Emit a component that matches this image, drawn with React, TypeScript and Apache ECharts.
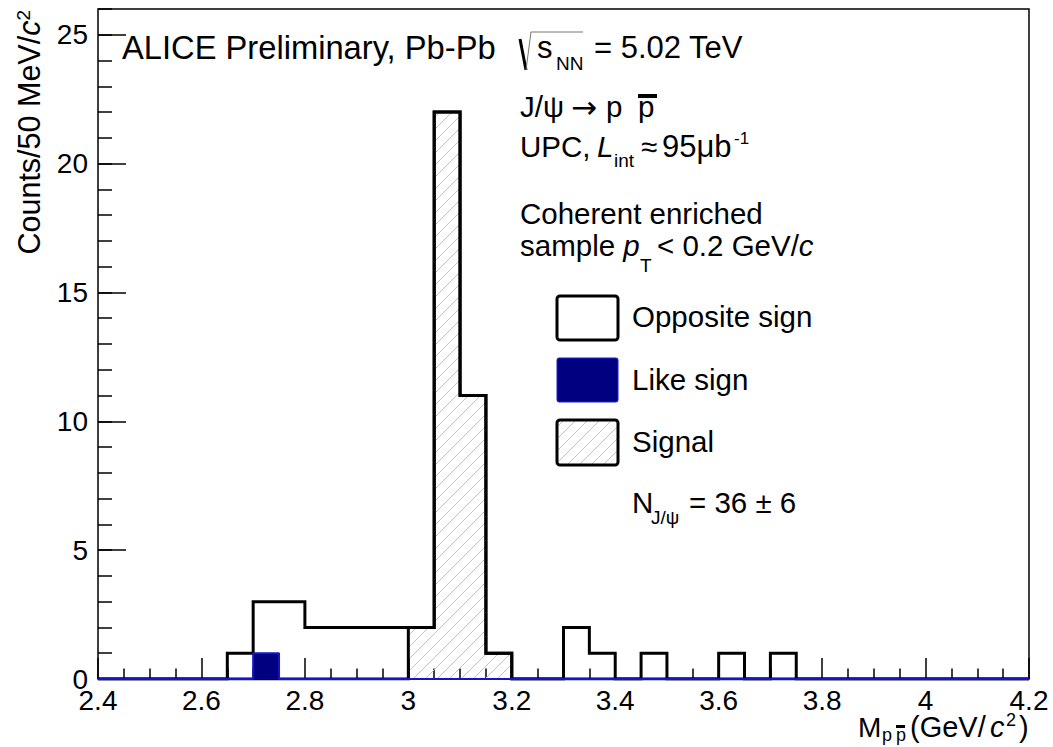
import React, { useEffect, useRef } from 'react';
import * as echarts from 'echarts';

// Histogram binning (GeV/c^2)
const binStart = 2.4;
const binWidth = 0.05;
// Counts per 50 MeV/c^2 bin, 36 bins from 2.40 to 4.20
const oppositeSign = [0, 0, 0, 0, 0, 1, 3, 3, 2, 2, 2, 2, 2, 22, 11, 1, 0, 0, 2, 1, 0, 1, 0, 0, 1, 0, 1, 0, 0, 0, 0, 0, 0, 0, 0, 0];
const likeSign = [0, 0, 0, 0, 0, 0, 1, 0, 0, 0, 0, 0, 0, 0, 0, 0, 0, 0, 0, 0, 0, 0, 0, 0, 0, 0, 0, 0, 0, 0, 0, 0, 0, 0, 0, 0];
const signal = [0, 0, 0, 0, 0, 0, 0, 0, 0, 0, 0, 0, 2, 22, 11, 1, 0, 0, 0, 0, 0, 0, 0, 0, 0, 0, 0, 0, 0, 0, 0, 0, 0, 0, 0, 0];

const xMin = 2.4;
const xMax = 4.2;
const xStep = 0.2;
const yMin = 0;
const yMax = 26;
const yStep = 5;

const FONT = "'Liberation Sans', Arial, Helvetica, sans-serif";
const HATCH = '#a6d6a6';

const r3 = (v: number) => Math.round(v * 1000) / 1000;
const edge = (i: number) => r3(binStart + i * binWidth);

function stepPoints(vals: number[]) {
  const pts: number[][] = [[edge(0), 0]];
  vals.forEach((v, i) => {
    pts.push([edge(i), v]);
    pts.push([edge(i + 1), v]);
  });
  pts.push([edge(vals.length), 0]);
  return pts;
}

function hatchLines(x0: number, yt: number, x1: number, yb: number, sp = 12) {
  const out: any[] = [];
  const kStart = Math.ceil((x0 + yt) / sp) * sp;
  for (let k = kStart; k <= x1 + yb; k += sp) {
    const xa = Math.max(x0, k - yb);
    const xb = Math.min(x1, k - yt);
    if (xb - xa > 0.5) {
      out.push({
        type: 'line',
        shape: { x1: xa, y1: k - xa, x2: xb, y2: k - xb },
        style: { stroke: HATCH, lineWidth: 1 },
        silent: true,
      });
    }
  }
  return out;
}

function txt(text: string, x: number, y: number, size: number, extra: any = {}) {
  return {
    type: 'text',
    x,
    y,
    z: 100,
    silent: true,
    style: {
      text,
      fontSize: size,
      fontFamily: FONT,
      fill: '#000',
      align: 'left',
      verticalAlign: 'middle',
      ...extra,
    },
  };
}

export default function App() {
  const ref = useRef<HTMLDivElement>(null);

  useEffect(() => {
    if (!ref.current) return;
    const chart = echarts.init(ref.current, undefined, { renderer: 'svg' });

    const signalBins = signal.map((v, i) => [edge(i), edge(i + 1), v]).filter((d) => d[2] > 0);
    const richIt = (size: number) => ({
      n: { fontSize: size, fontFamily: FONT },
      i: { fontSize: size, fontFamily: FONT, fontStyle: 'italic' },
    });

    const graphic: any[] = [
      txt('ALICE Preliminary, Pb-Pb', 122, 47, 32.7),
      // sqrt sign
      { type: 'line', z: 100, shape: { x1: 520, y1: 39, x2: 526, y2: 70 }, style: { stroke: '#000', lineWidth: 3 } },
      { type: 'polyline', z: 100, shape: { points: [[526, 70], [531, 32], [583, 32]] }, style: { stroke: '#777', lineWidth: 1, fill: null } },
      txt('s', 537, 47, 31),
      txt('NN', 556, 63.5, 19),
      txt('= 5.02 TeV', 594, 47, 31),
      // J/psi -> p pbar
      txt('J/ψ', 520, 106, 29.5),
      txt('→', 571, 107, 31, { fontFamily: "'DejaVu Sans', sans-serif" }),
      txt('p', 606, 106, 29.5),
      txt('p', 638, 106, 29.5),
      { type: 'rect', z: 100, shape: { x: 638, y: 94, width: 19, height: 4 }, style: { fill: '#000' } },
      // UPC line
      txt('UPC,', 520, 146, 29.5),
      txt('L', 597, 146, 29.5, { fontStyle: 'italic' }),
      txt('int', 614, 160, 19),
      txt('≈', 641, 146, 29.5),
      txt('95μb', 662, 146, 31),
      txt('-1', 734, 138, 17),
      // Coherent sample
      txt('Coherent enriched', 520, 213, 29.5),
      txt('{n|sample }{i|p}', 520, 245, 29.5, { rich: richIt(29.5) }),
      txt('T', 640, 265, 19),
      txt('{n|< 0.2 GeV/}{i|c}', 657, 245, 29.5, { rich: richIt(29.5) }),
      // Legend
      { type: 'rect', z: 100, shape: { x: 557, y: 296, width: 61, height: 44, r: 3 }, style: { fill: '#fff', stroke: '#000', lineWidth: 3 } },
      { type: 'rect', z: 100, shape: { x: 557, y: 358, width: 61, height: 44, r: 2 }, style: { fill: '#000080', stroke: '#2020d0', lineWidth: 1 } },
      { type: 'rect', z: 99, shape: { x: 557, y: 420, width: 61, height: 45, r: 3 }, style: { fill: '#fff', stroke: null } },
      ...hatchLines(557, 420, 618, 465).map((l) => ({ ...l, z: 100 })),
      { type: 'rect', z: 101, shape: { x: 557, y: 420, width: 61, height: 45, r: 3 }, style: { fill: null, stroke: '#000', lineWidth: 3 } },
      txt('Opposite sign', 632, 316, 29.5),
      txt('Like sign', 632, 379, 29.5),
      txt('Signal', 632, 441, 29.5),
      txt('N', 632, 502, 29.5),
      txt('J/ψ', 651, 517, 19),
      txt('= 36 ± 6', 689, 502, 29.5),
      // x axis title
      txt('M', 858, 727, 28),
      txt('p', 882, 735, 18),
      txt('p', 896, 735, 18),
      { type: 'rect', z: 100, shape: { x: 896, y: 725, width: 9, height: 3 }, style: { fill: '#000' } },
      txt('(GeV/', 910, 727, 29),
      txt('c', 990, 727, 29, { fontStyle: 'italic' }),
      txt('2', 1006, 720, 18),
      txt(')', 1019, 727, 29),
      // y axis title
      {
        type: 'text',
        x: 29,
        y: 10,
        rotation: Math.PI / 2,
        z: 100,
        silent: true,
        style: {
          text: '{n|Counts/50 MeV/}{i|c}{s|2}',
          align: 'right',
          verticalAlign: 'middle',
          fill: '#000',
          fontSize: 30.5,
          fontFamily: FONT,
          rich: {
            n: { fontSize: 30.5, fontFamily: FONT },
            i: { fontSize: 30.5, fontFamily: FONT, fontStyle: 'italic' },
            s: { fontSize: 19, fontFamily: FONT, verticalAlign: 'top', padding: [0, 0, 10, 0] },
          },
        },
      },
    ];

    const option: any = {
      animation: false,
      backgroundColor: '#fff',
      grid: {
        left: 98,
        right: 24,
        top: 9,
        bottom: 68,
        show: true,
        borderColor: '#000',
        borderWidth: 1.5,
        backgroundColor: 'transparent',
      },
      xAxis: {
        type: 'value',
        min: xMin,
        max: xMax,
        interval: xStep,
        axisLine: { show: false },
        splitLine: { show: false },
        axisTick: { show: true, inside: true, length: 21, lineStyle: { color: '#000', width: 1.5 } },
        minorTick: { show: true, splitNumber: 4, length: 10.5, lineStyle: { color: '#000', width: 1.5 } },
        minorSplitLine: { show: false },
        axisLabel: {
          fontSize: 28,
          fontFamily: FONT,
          color: '#000',
          margin: 7,
          formatter: (v: number) => String(Math.round(v * 10) / 10),
        },
      },
      yAxis: [
        {
          type: 'value',
          min: yMin,
          max: yMax,
          interval: yStep,
          position: 'left',
          axisLine: { show: false },
          splitLine: { show: false },
          axisTick: { show: true, inside: true, length: 28, lineStyle: { color: '#000', width: 1.5 } },
          axisLabel: {
            fontSize: 28,
            fontFamily: FONT,
            color: '#000',
            margin: 10,
            showMaxLabel: false,
            formatter: (v: number) => (v % yStep === 0 ? String(v) : ''),
          },
        },
        {
          type: 'value',
          min: yMin,
          max: yMax,
          interval: 1,
          position: 'left',
          offset: 0,
          axisLine: { show: false },
          splitLine: { show: false },
          axisTick: { show: true, inside: true, length: 14, lineStyle: { color: '#000', width: 1.5 } },
          axisLabel: { show: false },
        },
      ],
      series: [
        {
          type: 'custom',
          name: 'Signal hatch',
          xAxisIndex: 0,
          yAxisIndex: 0,
          encode: { x: [0, 1], y: 2 },
          data: signalBins,
          clip: true,
          z: 1,
          renderItem: (params: any, api: any) => {
            const lo = api.value(0);
            const hi = api.value(1);
            const v = api.value(2);
            const p0 = api.coord([lo, v]);
            const p1 = api.coord([hi, 0]);
            return {
              type: 'group',
              children: hatchLines(p0[0], p0[1], p1[0], p1[1]),
            };
          },
        },
        {
          type: 'line',
          name: 'Opposite sign',
          data: stepPoints(oppositeSign),
          showSymbol: false,
          symbol: 'none',
          z: 3,
          lineStyle: { color: '#000', width: 3, join: 'miter' },
        },
        {
          type: 'line',
          name: 'Signal',
          data: stepPoints(signal),
          showSymbol: false,
          symbol: 'none',
          z: 4,
          lineStyle: { color: '#000', width: 3, join: 'miter' },
        },
        {
          type: 'line',
          name: 'Like sign',
          data: stepPoints(likeSign),
          showSymbol: false,
          symbol: 'none',
          z: 5,
          lineStyle: { color: '#1414c8', width: 2 },
          areaStyle: { color: '#000080', opacity: 1 },
        },
      ],
      graphic,
    };

    chart.setOption(option);
    return () => chart.dispose();
  }, []);

  return <div ref={ref} style={{ width: 1053, height: 747, position: 'absolute', left: 0, top: 0 }} />;
}
